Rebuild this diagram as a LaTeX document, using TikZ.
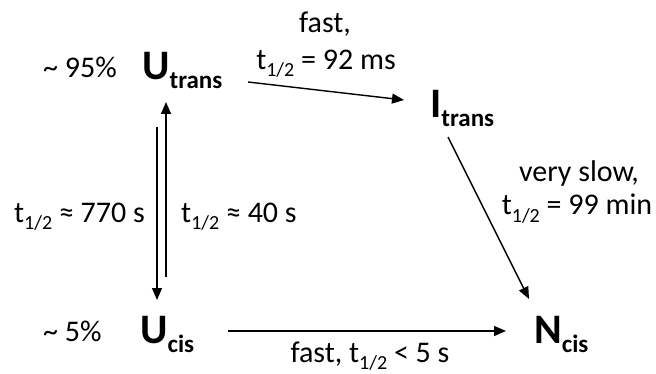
\documentclass[tikz,border=0pt]{standalone}
\usepackage{fontspec}
\setmainfont{Carlito}
\usetikzlibrary{arrows.meta}
\newcommand{\hsub}[1]{\raisebox{-7pt}{\fontsize{20}{20}\selectfont #1}}
\newcommand{\bsub}[1]{\raisebox{-9pt}{\fontsize{25}{25}\selectfont\bfseries #1}}
\newcommand{\tld}{\symbol{"7E}}
\tikzset{
  lbl/.style={font=\fontsize{30}{33}\selectfont, inner sep=0pt, anchor=base},
  lblw/.style={lbl, anchor=base west},
  species/.style={font=\fontsize{42}{42}\selectfont\bfseries, inner sep=0pt, anchor=base west},
  conn/.style={line width=1.4pt, -{Triangle[length=12pt,width=10pt]}}
}
\begin{document}
\begin{tikzpicture}[x=1pt,y=-1pt]
\useasboundingbox (0,0) rectangle (656,374);
% species
\node[species] (Utrans) at (142,80) {U\bsub{trans}};
\node[species] (Itrans) at (430,118) {I\bsub{trans}};
\node[species] (Ucis) at (140,343) {U\bsub{cis}};
\node[species] (Ncis) at (534,343) {N\bsub{cis}};
% populations
\node[lblw] (p95) at (43,78) {\tld\ 95\%};
\node[lblw] (p5) at (43,341) {\tld\ 5\%};
% rate labels
\node[lbl] (k1a) at (325,33) {fast,};
\node[lbl] (k1b) at (326,70) {t\hsub{1/2} = 92 ms};
\node[lbl] (k2a) at (579,182) {very slow,};
\node[lbl] (k2b) at (577,215) {t\hsub{1/2} = 99 min};
\node[lblw] (k3) at (14,223) {t\hsub{1/2} ≈ 770 s};
\node[lblw] (k4) at (181,223) {t\hsub{1/2} ≈ 40 s};
\node[lbl] (k5) at (370,362) {fast, t\hsub{1/2} < 5 s};
% connector end points
\coordinate (a1) at (248,82);
\coordinate (a2) at (404,100);
\coordinate (b1) at (448,137);
\coordinate (b2) at (529,299);
\coordinate (c1) at (157,127);
\coordinate (c2) at (157,300);
\coordinate (d1) at (166,277);
\coordinate (d2) at (166,102);
\coordinate (e1) at (228,331);
\coordinate (e2) at (506,331);
\draw[conn] (a1) -- (a2);
\draw[conn] (b1) -- (b2);
\draw[conn] (c1) -- (c2);
\draw[conn] (d1) -- (d2);
\draw[conn] (e1) -- (e2);
\end{tikzpicture}
\end{document}
